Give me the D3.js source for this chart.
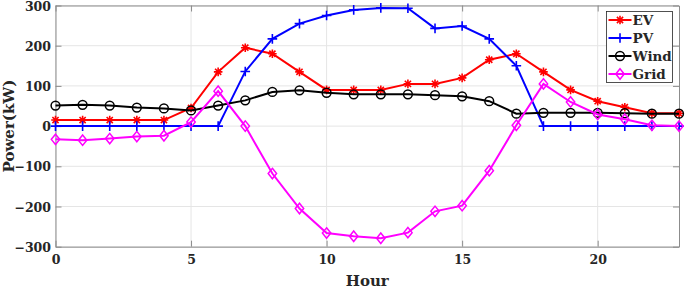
<!DOCTYPE html>
<html>
<head>
<meta charset="utf-8">
<script src="https://cdn.jsdelivr.net/npm/d3@7"></script>
<style>
  body { margin: 0; background: #fff; }
  text { font-family: "DejaVu Serif", serif; font-weight: bold; fill: #262626; }
</style>
</head>
<body>
<div id="chart"></div>
<script>
// hourly values
const hours = d3.range(0, 24);
const ev   = [15, 15, 15, 15, 15, 45, 135, 195, 180, 135, 90, 90, 90, 105, 105, 120, 165, 180, 135, 90, 62, 47, 32, 32];
const pv   = [0, 0, 0, 0, 0, 0, 0, 136, 217, 255, 275, 289, 294, 293, 243, 249, 217, 150, 0, 0, 0, 0, 0, 0];
const wind = [51, 53, 51, 46, 44, 39, 51, 64, 85, 89, 83, 79, 79, 79, 77, 74, 62, 31, 33, 33, 33, 32, 31, 31];
const grid = [-33, -35, -31, -26, -24, 10, 87, 0, -118, -205, -266, -274, -279, -265, -212, -198, -111, 2, 105, 60, 29, 17, 2, 0];
const xTicks = [0, 5, 10, 15, 20];
const yTicks = [-300, -200, -100, 0, 100, 200, 300];

const series = [
  { name: "EV", values: ev, color: "#ff0000", marker: "star" },
  { name: "PV", values: pv, color: "#0000ff", marker: "plus" },
  { name: "Wind", values: wind, color: "#000000", marker: "circle" },
  { name: "Grid", values: grid, color: "#ff00ff", marker: "diamond" }
];

const config = {
  width: 685,
  height: 289,
  left: 55.5,
  right: 679,
  top: 5.5,
  bottom: 246.7,
  axisColor: "#8c8c8c",
  gridColor: "#e5e5e5"
};

const svg = d3.select("#chart").append("svg")
  .attr("width", config.width)
  .attr("height", config.height);

const x = d3.scaleLinear().domain([0, 23]).range([config.left, config.right]);
const y = d3.scaleLinear().domain([-300, 300]).range([config.bottom, config.top]);

// grid
svg.append("g").selectAll("line").data(xTicks).enter().append("line")
  .attr("x1", d => x(d)).attr("x2", d => x(d))
  .attr("y1", config.top).attr("y2", config.bottom)
  .attr("stroke", config.gridColor).attr("stroke-width", 1);
svg.append("g").selectAll("line").data(yTicks).enter().append("line")
  .attr("x1", config.left).attr("x2", config.right)
  .attr("y1", d => y(d)).attr("y2", d => y(d))
  .attr("stroke", config.gridColor).attr("stroke-width", 1);

// axes (ticks inside, box on)
const tickLen = 6;
const axBottom = svg.append("g").attr("transform", `translate(0,${config.bottom})`)
  .call(d3.axisBottom(x).tickValues(xTicks).tickSizeInner(-tickLen).tickSizeOuter(0).tickPadding(10));
const axTop = svg.append("g").attr("transform", `translate(0,${config.top})`)
  .call(d3.axisTop(x).tickValues(xTicks).tickSizeInner(-tickLen).tickSizeOuter(0).tickFormat(""));
const axLeft = svg.append("g").attr("transform", `translate(${config.left},0)`)
  .call(d3.axisLeft(y).tickValues(yTicks).tickSizeInner(-tickLen).tickSizeOuter(0).tickPadding(10));
const axRight = svg.append("g").attr("transform", `translate(${config.right},0)`)
  .call(d3.axisRight(y).tickValues(yTicks).tickSizeInner(-tickLen).tickSizeOuter(0).tickFormat(""));

[axBottom, axTop, axLeft, axRight].forEach(a => {
  a.selectAll("path, line").attr("stroke", config.axisColor);
  a.selectAll("text")
    .style("font-family", "'DejaVu Serif', serif")
    .style("font-weight", "bold")
    .style("font-size", "12.5px")
    .attr("fill", "#262626");
});
axLeft.selectAll("text").attr("dy", "0.36em").attr("x", -4.5);
axBottom.selectAll("text").attr("y", 8);

// axis titles
svg.append("text")
  .attr("x", (config.left + config.right) / 2)
  .attr("y", 286)
  .attr("text-anchor", "middle")
  .style("font-size", "15px")
  .text("Hour");
svg.append("text")
  .attr("transform", `translate(14,${(config.top + config.bottom) / 2}) rotate(-90)`)
  .attr("text-anchor", "middle")
  .style("font-size", "15px")
  .text("Power(kW)");

// markers
function drawMarker(g, type, color) {
  const s = 4.3;
  if (type === "star") {
    const d = s * 0.72;
    g.append("path")
      .attr("d", `M${-s},0L${s},0M0,${-s}L0,${s}M${-d},${-d}L${d},${d}M${-d},${d}L${d},${-d}`)
      .attr("stroke", color).attr("stroke-width", 1.6).attr("fill", "none");
  } else if (type === "plus") {
    g.append("path")
      .attr("d", `M${-s - 0.5},0L${s + 0.5},0M0,${-s - 0.5}L0,${s + 0.5}`)
      .attr("stroke", color).attr("stroke-width", 1.6).attr("fill", "none");
  } else if (type === "circle") {
    g.append("circle").attr("r", 4.4)
      .attr("stroke", color).attr("stroke-width", 1.5).attr("fill", "none");
  } else if (type === "diamond") {
    g.append("path")
      .attr("d", `M0,-5.2L4.2,0L0,5.2L-4.2,0Z`)
      .attr("stroke", color).attr("stroke-width", 1.5).attr("fill", "none");
  }
}

const line = d3.line().x((d, i) => x(hours[i])).y(d => y(d));

series.forEach(s => {
  const g = svg.append("g");
  g.append("path")
    .attr("d", line(s.values))
    .attr("fill", "none")
    .attr("stroke", s.color)
    .attr("stroke-width", 2);
  g.selectAll("g.m").data(s.values).enter().append("g")
    .attr("class", "m")
    .attr("transform", (d, i) => `translate(${x(hours[i])},${y(d)})`)
    .each(function() { drawMarker(d3.select(this), s.marker, s.color); });
});

// legend
const legend = svg.append("g").attr("transform", "translate(606.5,11.5)");
legend.append("rect")
  .attr("width", 66).attr("height", 71)
  .attr("fill", "#fff").attr("stroke", "#262626").attr("stroke-width", 0.8);
series.forEach((s, i) => {
  const row = legend.append("g").attr("transform", `translate(0,${8.5 + i * 18})`);
  row.append("line").attr("x1", 2).attr("x2", 25).attr("y1", 0).attr("y2", 0)
    .attr("stroke", s.color).attr("stroke-width", 2);
  drawMarker(row.append("g").attr("transform", "translate(13.5,0)"), s.marker, s.color);
  row.append("text").attr("x", 26).attr("dy", "0.36em")
    .style("font-size", "13.5px")
    .text(s.name);
});
</script>
</body>
</html>
